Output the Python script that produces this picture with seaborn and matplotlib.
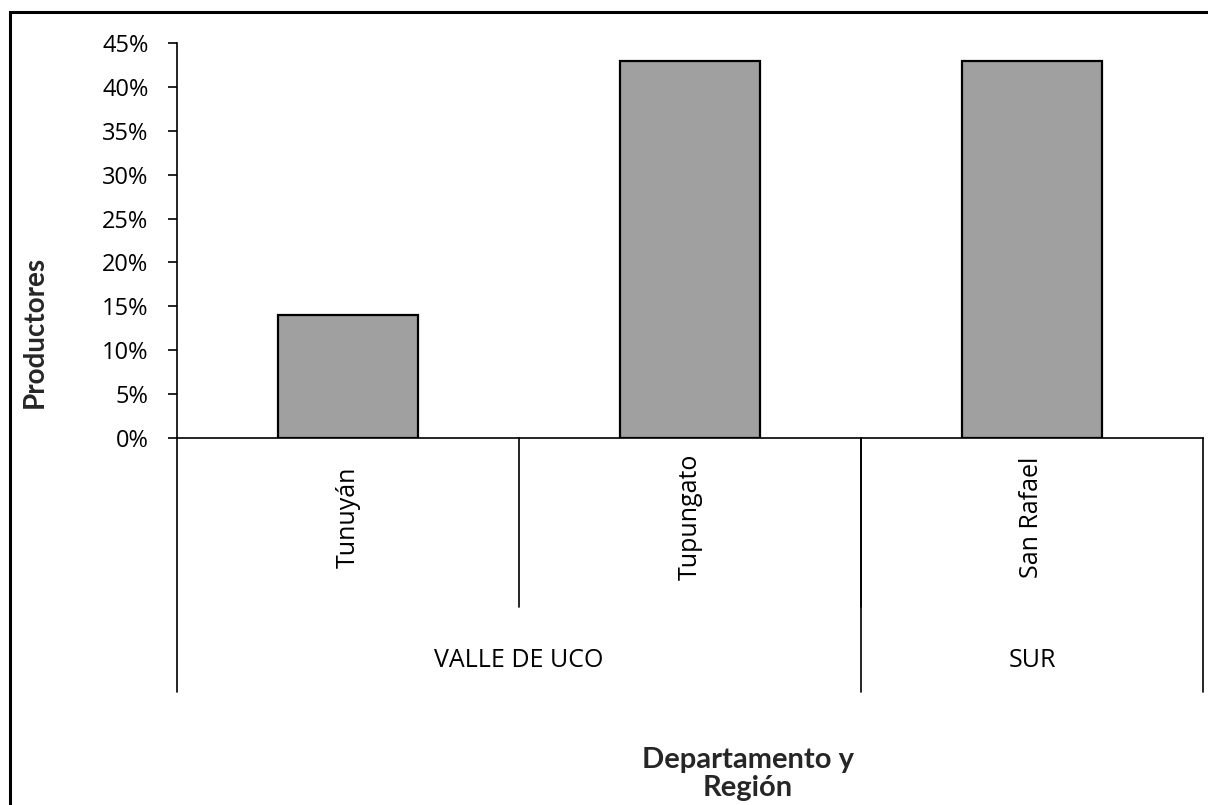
import matplotlib
matplotlib.use("Agg")
import matplotlib.pyplot as plt
import matplotlib.transforms as mtransforms
from matplotlib.patches import Rectangle
from matplotlib.ticker import PercentFormatter
import seaborn as sns
import pandas as pd

departamentos = ["Tunuyán", "Tupungato", "San Rafael"]
productores = [14, 43, 43]
regiones = ["VALLE DE UCO", "SUR"]
region_spans = [(0, 1), (2, 2)]  # first and last category index
yticks = [0, 5, 10, 15, 20, 25, 30, 35, 40, 45]

sns.set_theme(style="white")
plt.rcParams["font.family"] = ["Open Sans", "DejaVu Sans"]

df = pd.DataFrame({"Departamento": departamentos, "Productores": productores})

fig = plt.figure(figsize=(12.08, 8.05), dpi=100)
ax = fig.add_axes([177/1208, 1 - 438/805, (1203 - 177)/1208, (438 - 43)/805])

sns.barplot(data=df, x="Departamento", y="Productores", ax=ax,
            color="#a0a0a0", edgecolor="black", linewidth=1.6, width=0.41,
            saturation=1)

ax.set_xlim(-0.5, 2.5)
ax.set_ylim(0, 45)
ax.set_yticks(yticks)
ax.yaxis.set_major_formatter(PercentFormatter(decimals=0))
ax.tick_params(axis="y", labelsize=17, length=6.5, width=1.2, direction="out",
               left=True, colors="black", pad=14)
ax.tick_params(axis="x", bottom=False, labelbottom=False)
for s in ["top", "right"]:
    ax.spines[s].set_visible(False)
for s in ["left", "bottom"]:
    ax.spines[s].set_color("black")
    ax.spines[s].set_linewidth(1.2)
ax.set_xlabel("")
ax.set_ylabel("")

trans = mtransforms.blended_transform_factory(ax.transData, ax.transAxes)
y1 = -(607 - 438) / 395
y2 = -(692 - 438) / 395

# category separators (first level)
for xb in [0.5, 1.5]:
    ax.plot([xb, xb], [0, y1], transform=trans, color="black", lw=1.2, clip_on=False)
# region separators
bounds = sorted({-0.5, 2.5} | {e + 0.5 for _, e in region_spans})
for xb in bounds:
    ax.plot([xb, xb], [0, y2], transform=trans, color="black", lw=1.2, clip_on=False)

# category labels
for i, name in enumerate(departamentos):
    ax.text(i, -(517 - 438) / 395, name, transform=trans, rotation=90,
            ha="center", va="center", fontsize=18, color="black")
# region labels
for name, (s, e) in zip(regiones, region_spans):
    ax.text((s + e) / 2, -(660 - 438) / 395, name, transform=trans,
            ha="center", va="center", fontsize=18, color="black")

fig.text(35/1208, 1 - 332/805, "Productores", rotation=90, ha="center", va="center",
         fontsize=20, fontweight="bold", family=["Lato", "DejaVu Sans"])
fig.text(748/1208, 1 - 774/805, "Departamento y\nRegión", ha="center", va="center",
         fontsize=21, fontweight="bold", family=["Lato", "DejaVu Sans"],
         linespacing=1.08)

# figure border
fig.patches.append(Rectangle((10/1208, -0.1), 1.2, 1 - 12/805 + 0.1,
                             transform=fig.transFigure, fill=False,
                             edgecolor="black", lw=2.2, clip_on=False))

fig.savefig("out.png", dpi=100)
